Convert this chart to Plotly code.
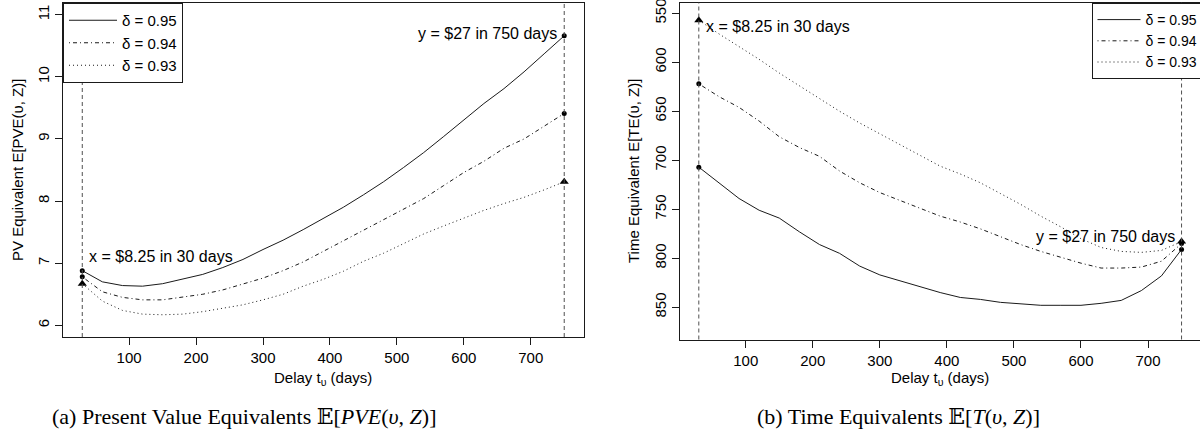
import plotly.graph_objects as go

# ---- data -------------------------------------------------------------
delay_days = [30, 60, 90, 120, 150, 180, 210, 240, 270, 300, 330, 360, 390,
              420, 450, 480, 510, 540, 570, 600, 630, 660, 690, 720, 750]

# Present value equivalents E[PVE(v, Z)]
pve_095 = [6.88, 6.70, 6.64, 6.63, 6.67, 6.74, 6.82, 6.93, 7.06, 7.22, 7.37, 7.54, 7.72,
           7.90, 8.10, 8.31, 8.54, 8.78, 9.04, 9.31, 9.57, 9.81, 10.08, 10.37, 10.66]
pve_094 = [6.78, 6.54, 6.45, 6.41, 6.41, 6.45, 6.50, 6.57, 6.66, 6.76, 6.88, 7.02, 7.19,
           7.36, 7.53, 7.70, 7.87, 8.04, 8.25, 8.46, 8.64, 8.85, 9.00, 9.20, 9.41]
pve_093 = [6.67, 6.39, 6.24, 6.18, 6.17, 6.18, 6.22, 6.27, 6.33, 6.41, 6.50, 6.63, 6.74,
           6.87, 7.03, 7.16, 7.32, 7.47, 7.60, 7.73, 7.85, 7.96, 8.06, 8.18, 8.31]

# Time equivalents E[TE(v, Z)]
te_095 = [707, 723, 739, 751, 759, 773, 786, 795, 808, 817, 823, 829, 835,
          840, 842, 845, 846.5, 848, 848, 848, 846, 843, 833, 818, 791]
te_094 = [622, 635, 646, 660, 676, 687, 696, 711, 723, 733, 741, 749, 757,
          763, 770, 778, 786, 793, 799, 805, 810, 810, 809, 803, 785]
te_093 = [557, 571, 584, 597, 611, 624, 637, 650, 662, 673, 684, 695, 706,
          714, 723, 734, 745, 757, 768, 780, 789, 793, 794, 792, 783]

series_labels = ["δ = 0.95", "δ = 0.94", "δ = 0.93"]

# the two options being compared
x_option_delay = 30
y_option_delay = 750
x_option_label = "x = $8.25 in 30 days"
y_option_label = "y = $27 in 750 days"

delay_ticks = [100, 200, 300, 400, 500, 600, 700]
pve_ticks = [6, 7, 8, 9, 10, 11]
te_ticks = [550, 600, 650, 700, 750, 800, 850]

# ---- layout helpers ---------------------------------------------------
W, H = 1200, 435
FONT = "Liberation Sans, Arial, Helvetica, sans-serif"
SERIF = "Liberation Serif, DejaVu Serif, serif"
INK = "#1a1a1a"


def px(v):
    return v / W


def py(v):
    return 1 - v / H


line_styles = [
    dict(dash="solid"),
    dict(dash="1px,3px,4px,3px"),
    dict(dash="1px,3px"),
]
end_markers = [
    dict(symbol="circle", size=5),
    dict(symbol="circle", size=5),
    dict(symbol="triangle-up", size=8),
]

fig = go.Figure()

panels = [
    ("x", "y", "legend", [pve_095, pve_094, pve_093]),
    ("x2", "y2", "legend2", [te_095, te_094, te_093]),
]

for xa, ya, lg, group in panels:
    for label, vals, ls in zip(series_labels, group, line_styles):
        fig.add_trace(go.Scatter(
            x=delay_days, y=vals, mode="lines", name=label,
            line=dict(color=INK, width=1, **ls),
            xaxis=xa, yaxis=ya, legend=lg, hoverinfo="skip",
        ))
    for vals, mk in zip(group, end_markers):
        fig.add_trace(go.Scatter(
            x=[delay_days[0], delay_days[-1]], y=[vals[0], vals[-1]],
            mode="markers", showlegend=False,
            marker=dict(color="black", line=dict(width=0), **mk),
            xaxis=xa, yaxis=ya, hoverinfo="skip",
        ))

# vertical reference lines at the two option delays
shapes = []
for xa, ya in [("x", "y"), ("x2", "y2")]:
    for d in (x_option_delay, y_option_delay):
        shapes.append(dict(
            type="line", xref=xa, yref=f"{ya} domain", x0=d, x1=d, y0=0, y1=1,
            line=dict(color="#505050", width=1, dash="4px,3px"), layer="above",
        ))

axis_common = dict(
    showgrid=False, zeroline=False, showline=True, linecolor=INK, linewidth=1,
    ticks="outside", ticklen=7, tickwidth=1, tickcolor=INK,
    ticklabeloverflow="allow", automargin=False,
    tickfont=dict(family=FONT, size=15, color="black"),
)

left_dom = [px(63), px(583.5)]
right_dom = [px(679.5), 1.0]

layout = dict(
    width=W, height=H,
    margin=dict(l=0, r=0, t=0, b=0, autoexpand=False),
    paper_bgcolor="white", plot_bgcolor="white",
    font=dict(family=FONT, color="black"),
    showlegend=True,
    shapes=shapes,
    xaxis=dict(domain=left_dom, range=[1.2, 778.8], tickvals=delay_ticks,
               anchor="y", mirror=True, **axis_common),
    yaxis=dict(domain=[py(337), py(3)], range=[5.812, 11.188], tickvals=pve_ticks,
               tickangle=-90, anchor="x", mirror=True, **axis_common),
    xaxis2=dict(domain=right_dom, range=[1.2, 777.5], tickvals=delay_ticks,
                anchor="y2", mirror=True, **axis_common),
    yaxis2=dict(domain=[py(339.5), py(2.7)], range=[882.9, 539.2], tickvals=te_ticks,
                tickangle=-90, anchor="x2", mirror=False, **axis_common),
    legend=dict(x=px(63), y=py(3), xanchor="left", yanchor="top",
                bgcolor="white", bordercolor=INK, borderwidth=1,
                font=dict(family=FONT, size=15), tracegroupgap=0,
                itemwidth=48),
    legend2=dict(x=px(1091.5), y=py(3), xanchor="left", yanchor="top",
                 bgcolor="white", bordercolor=INK, borderwidth=1,
                 font=dict(family=FONT, size=14), tracegroupgap=0,
                 itemwidth=43),
)
fig.update_layout(**layout)


def note(text, x, y, size=15, angle=0, family=FONT, xref="paper", yref="paper",
         xanchor="center", xshift=0):
    return dict(text=text, xref=xref, yref=yref, x=x, y=y, textangle=angle,
                xanchor=xanchor, yanchor="middle", xshift=xshift, showarrow=False,
                font=dict(family=family, size=size, color="black"))


annotations = [
    # axis titles
    note("PV Equivalent E[PVE(υ, Z)]", px(18), py(170), angle=-90),
    note("Time Equivalent E[TE(υ, Z)]", px(633), py(171), angle=-90),
    note("Delay t<sub>υ</sub> (days)", (left_dom[0] + left_dom[1]) / 2, py(378)),
    note("Delay t<sub>υ</sub> (days)", px(940), py(378)),
    # option labels
    note(x_option_label, x_option_delay, 7.115, size=16, xref="x", yref="y",
         xanchor="left", xshift=5),
    note(y_option_label, y_option_delay, 10.705, size=16, xref="x", yref="y",
         xanchor="right", xshift=-5),
    note(x_option_label, x_option_delay, 563, size=16, xref="x2", yref="y2",
         xanchor="left", xshift=5),
    note(y_option_label, y_option_delay, 778, size=16, xref="x2", yref="y2",
         xanchor="right", xshift=-5),
    # sub-figure captions
    note("(a) Present Value Equivalents 𝔼[<i>PVE</i>(<i>υ</i>, <i>Z</i>)]",
         px(244), py(416), size=22, family=SERIF),
    note("(b) Time Equivalents 𝔼[<i>T</i>(<i>υ</i>, <i>Z</i>)]",
         px(898), py(416), size=22, family=SERIF),
]
fig.update_layout(annotations=annotations)

fig.write_html("out.html")
